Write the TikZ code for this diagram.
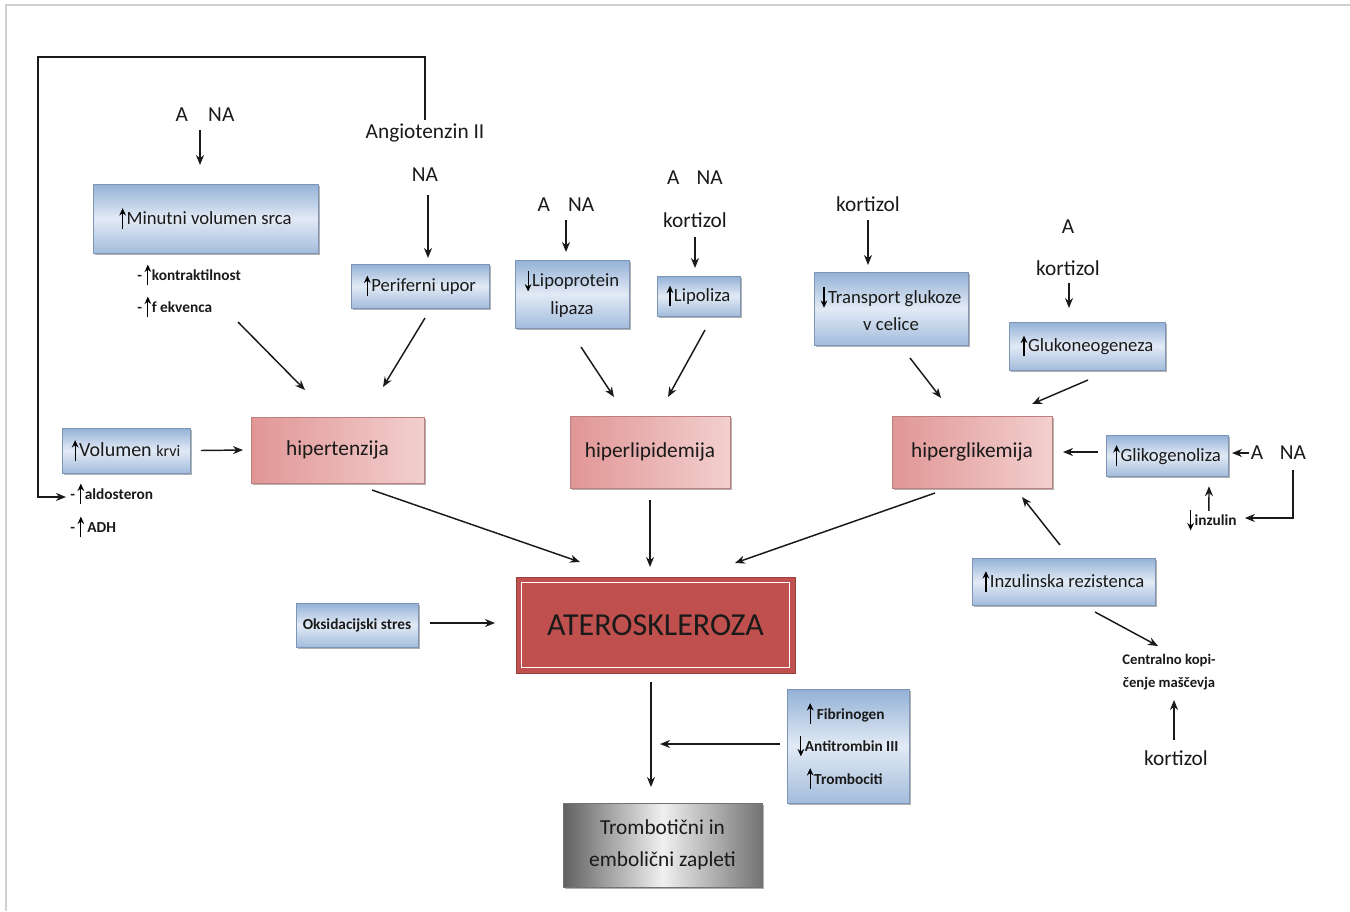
\documentclass[tikz,border=0pt]{standalone}
\usepackage{fontspec}
\setmainfont{Carlito}
\usetikzlibrary{arrows.meta,calc,shadows}
\definecolor{txt}{HTML}{1A1A1A}
\definecolor{blueA}{HTML}{93B1D6}
\definecolor{blueB}{HTML}{E2EAF5}
\definecolor{pinkA}{HTML}{E09695}
\definecolor{pinkB}{HTML}{F9E2E2}
\definecolor{ateroRed}{HTML}{C0504D}
\definecolor{frameGray}{HTML}{CFCFCF}
\newcommand\fntbox{\fontsize{14}{21}\selectfont}
\newcommand\fntpink{\fontsize{16}{20}\selectfont}
\newcommand\fntlab{\fontsize{16}{20}\selectfont}
\newcommand\fntsmall{\fontsize{11.5}{14}\selectfont\bfseries}
\newcommand\fntbld{\fontsize{11.5}{24.4}\selectfont\bfseries}
\newcommand\fntcen{\fontsize{11}{17}\selectfont\bfseries}
\newsavebox\myupbox
\newsavebox\mydnbox
\newcommand\mkarrow[2]{\begin{pgfpicture}\pgfsetbaseline{0pt}\pgfsetlinewidth{0.9pt}\pgfsetarrowsend{Stealth[length=5.5pt,width=5pt]}\pgfpathmoveto{\pgfpoint{0pt}{#1}}\pgfpathlineto{\pgfpoint{0pt}{#2}}\pgfusepath{stroke}\end{pgfpicture}}
\AtBeginDocument{%
\sbox\myupbox{\mkarrow{-3.5pt}{12pt}\kern0.5pt}%
\sbox\mydnbox{\mkarrow{12pt}{-3.5pt}\kern0.5pt}%
}
\newcommand\myup{\usebox\myupbox}
\newcommand\mydn{\usebox\mydnbox}
\tikzset{
  arr/.style={draw=txt, line width=1.1pt, -{Stealth[length=7.5pt,width=6pt]}},
  bluebox/.style={top color=blueA, bottom color=blueA!80!blueB, middle color=blueB,
    draw=blueA!85!black, line width=0.3pt,
    drop shadow={shadow xshift=1.8pt, shadow yshift=-1.8pt, fill=black!50, opacity=0.6},
    text=txt, align=center, inner sep=0pt, font=\fntbox},
  pinkbox/.style={left color=pinkA, right color=pinkB!75!pinkA,
    draw=pinkA!85!black, line width=0.3pt,
    drop shadow={shadow xshift=1.8pt, shadow yshift=-1.8pt, fill=black!50, opacity=0.6},
    text=txt, align=center, inner sep=0pt, font=\fntpink},
  graybox/.style={left color=black!62, right color=black!55, middle color=black!6,
    draw=black!55, line width=0.3pt,
    drop shadow={shadow xshift=1.8pt, shadow yshift=-1.8pt, fill=black!50, opacity=0.6},
    text=txt, align=center, inner sep=0pt, font=\fontsize{16}{24}\selectfont},
  atero/.style={fill=ateroRed, draw=ateroRed!80!black, line width=0.6pt,
    text=txt, inner sep=0pt, font=\fontsize{24}{28}\selectfont},
  lab/.style={text=txt, inner sep=0pt, font=\fntlab},
  smalltxt/.style={text=txt, inner sep=0pt, font=\fntsmall},
}
\begin{document}
\begin{tikzpicture}[x=0.75pt,y=-0.75pt]
\useasboundingbox (0,0) rectangle (1350,911);
\fill[white] (0,0) rectangle (1350,911);
\draw[frameGray, line width=1.2pt] (6,911) -- (6,5) -- (1350,5);

% boxes
\node[bluebox, minimum width=168.75pt, minimum height=51.75pt] (mv) at (205.5,218.5) {\myup Minutni volumen srca};
\node[bluebox, minimum width=103.5pt, minimum height=33pt] (pu) at (420,286) {\myup Periferni upor};
\node[pinkbox, minimum width=129.75pt, minimum height=49.5pt] (ht) at (337.5,450) {hipertenzija};
\node[bluebox, minimum width=96pt, minimum height=33.75pt, font=\fontsize{15}{18}\selectfont] (vk) at (126,450.5) {\myup Volumen {\fontsize{12}{14}\selectfont krvi}};
\node[bluebox, minimum width=85.5pt, minimum height=51pt] (lpl) at (572,294) {\mydn Lipoprotein\\lipaza};
\node[bluebox, minimum width=62.25pt, minimum height=30pt] (lip) at (698.5,296) {\myup Lipoliza};
\node[pinkbox, minimum width=120pt, minimum height=54pt] (hl) at (650,452) {hiperlipidemija};
\node[bluebox, minimum width=115.5pt, minimum height=54.75pt, font=\fontsize{14}{20.5}\selectfont] (tg) at (891,308.5) {\mydn Transport glukoze\\v celice};
\node[bluebox, minimum width=117pt, minimum height=36pt] (gng) at (1087,346) {\myup Glukoneogeneza};
\node[pinkbox, minimum width=120pt, minimum height=54pt] (hg) at (972,452) {hiperglikemija};
\node[bluebox, minimum width=91.5pt, minimum height=30.75pt] (gg) at (1167,455.5) {\myup Glikogenoliza};
\node[bluebox, minimum width=137.25pt, minimum height=35.25pt] (ir) at (1063.5,581.5) {\myup Inzulinska rezistenca};
\node[atero, minimum width=209.25pt, minimum height=72pt] (ath) at (655.5,625) {ATEROSKLEROZA};
\draw[white, line width=1.3pt] ($(ath.north west)+(6,6)$) rectangle ($(ath.south east)+(-6,-6)$);
\node[bluebox, font=\fntbld, minimum width=91.5pt, minimum height=33pt] (ox) at (357,625) {Oksidacijski stres};
\node[bluebox, font=\fntbld, align=left, minimum width=91.5pt, minimum height=85.5pt] (fib) at (848,746) {\hspace{7pt}\myup\,Fibrinogen\\\mydn Antitrombin III\\\hspace{7pt}\myup Trombociti};
\node[graybox, minimum width=149.25pt, minimum height=63pt] (tr) at (662.5,845) {Trombotični in\\embolični zapleti};

% labels
\node[lab] (ana1) at (205,115) {A\hspace{0.95em}NA};
\node[lab] (ang) at (425,133) {Angiotenzin II};
\node[lab] (na1) at (425,175) {NA};
\node[smalltxt, anchor=west] (kon1) at (137,275) {-\,\myup kontraktilnost};
\node[smalltxt, anchor=west] (kon2) at (137,307) {-\,\myup f ekvenca};
\node[smalltxt, anchor=west] (ald) at (70,494) {-\,\myup aldosteron};
\node[smalltxt, anchor=west] (adh) at (70,527) {-\,\myup\,ADH};
\node[lab] (ana2) at (566,205) {A\hspace{0.85em}NA};
\node[lab] (ana3) at (695,178) {A\hspace{0.8em}NA};
\node[lab] (kort1) at (695,220) {kortizol};
\node[lab] (kort2) at (868,204) {kortizol};
\node[lab] (a4) at (1068,227) {A};
\node[lab] (kort3) at (1068,268) {kortizol};
\node[lab] (a5) at (1257,453) {A};
\node[lab] (na5) at (1293,453) {NA};
\node[smalltxt, anchor=west] (inz) at (1187,520) {\mydn inzulin};
\node[smalltxt, align=center, font=\fntcen] (cen) at (1169,672) {Centralno kopi-\\čenje maščevja};
\node[lab] (kort4) at (1176,758) {kortizol};

\coordinate (loopTL) at (38,57);
\coordinate (mid) at ($(ath)+(-4.5,119)$);

% connectors
\draw[arr] ($(ana1)+(-5,15)$) -- ($(mv)+(-5.5,-53.5)$);
\draw[arr] ($(ang)+(0,-13)$) |- (loopTL) |- ($(ald.west)+(-4,3)$);
\draw[arr] ($(na1)+(3,20)$) -- ($(pu)+(8,-28)$);
\draw[arr] ($(mv)+(32.5,103.5)$) -- ($(ht)+(-32.5,-60)$);
\draw[arr] ($(pu)+(5,32)$) -- ($(ht)+(45.5,-63)$);
\draw[arr] ($(vk)+(75,0)$) -- ($(ht)+(-94.5,0)$);
\draw[arr] ($(ana2)+(0,15)$) -- ($(lpl)+(-6,-42)$);
\draw[arr] ($(kort1)+(0,17)$) -- ($(lip)+(-3.5,-28)$);
\draw[arr] ($(lpl)+(9,53)$) -- ($(hl)+(-36,-55)$);
\draw[arr] ($(lip)+(6.5,34)$) -- ($(hl)+(18,-55)$);
\draw[arr] ($(kort2)+(0,16)$) -- ($(tg)+(-23,-43.5)$);
\draw[arr] ($(kort3)+(1,15)$) -- ($(gng)+(-18,-38)$);
\draw[arr] ($(tg)+(19,49.5)$) -- ($(hg)+(-31,-54)$);
\draw[arr] ($(gng)+(1,34)$) -- ($(hg)+(60,-48)$);
\draw[arr] ($(gg)+(-69,-3.5)$) -- ($(hg)+(91,0)$);
\draw[arr] ($(a5)+(-8,0)$) -- ($(gg)+(65,-2.5)$);
\draw[arr] ($(na5)+(0,17)$) |- ($(inz.east)+(8,-2)$);
\draw[arr] ($(inz.north)+(-3,2)$) -- ($(gg.south)+(42,10)$);
\draw[arr] ($(ir)+(-3.5,-36.5)$) -- ($(hg)+(50,45)$);
\draw[arr] ($(ir)+(31.5,30.5)$) -- ($(cen)+(-11,-26)$);
\draw[arr] ($(kort4)+(-2,-18)$) -- ($(cen)+(5,28)$);
\draw[arr] ($(ht)+(34.5,40)$) -- ($(ath)+(-75.5,-63)$);
\draw[arr] ($(hl)+(0,48)$) -- ($(ath)+(-5.5,-58)$);
\draw[arr] ($(hg)+(-37,41)$) -- ($(ath)+(79.5,-62)$);
\draw[arr] ($(ox)+(73,-2)$) -- ($(ath)+(-160.5,-2)$);
\draw[arr] ($(ath)+(-4.5,57)$) -- ($(tr)+(-11.5,-58)$);
\draw[arr] ($(fib)+(-68,-2)$) -- ($(mid)+(9,0)$);
\end{tikzpicture}
\end{document}
